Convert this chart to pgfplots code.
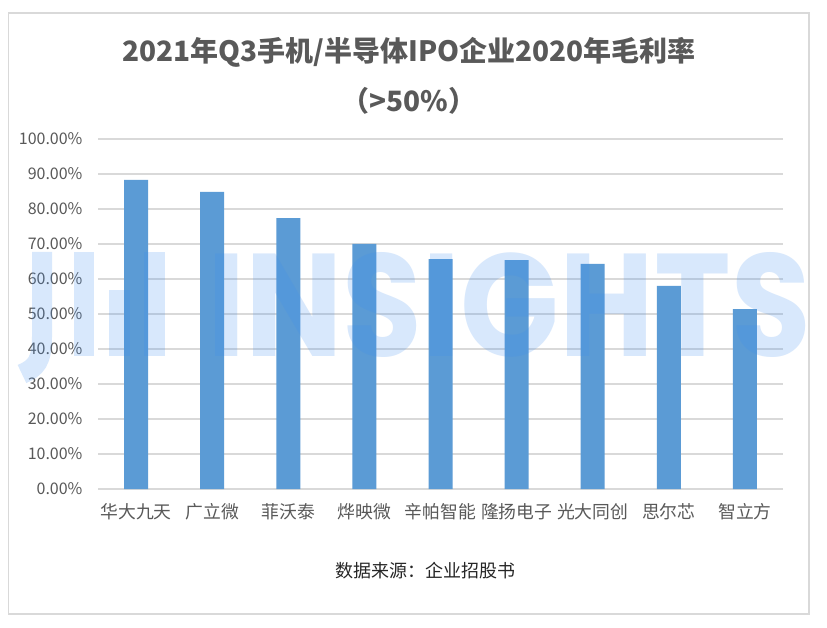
\documentclass[border=0pt]{standalone}
\usepackage{fontspec}
\setmainfont{Noto Sans CJK SC}
\newfontfamily\wm{Poppins}
\usepackage{pgfplots}
\pgfplotsset{compat=1.18}
\definecolor{barc}{HTML}{5B9BD5}
\definecolor{gridc}{HTML}{D9D9D9}
\definecolor{txt}{HTML}{595959}
\definecolor{wmc}{RGB}{60,140,240}
\begin{document}
\begin{tikzpicture}
\path[use as bounding box] (0pt,0pt) rectangle (827pt,627pt);
\fill[white] (0pt,0pt) rectangle (827pt,627pt);
\begin{axis}[
  at={(98pt,138pt)}, anchor=south west, scale only axis,
  width=685pt, height=350pt,
  xmin=-0.5, xmax=8.5, ymin=0, ymax=100,
  axis line style={draw=none},
  major tick length=0pt,
  ytick={0,10,...,100},
  ymajorgrids, grid style={gridc, line width=1.2pt},
  xtick={0,...,8},
  xticklabels={华大九天,广立微,菲沃泰,烨映微,辛帕智能,隆扬电子,光大同创,思尔芯,智立方},
  xticklabel style={font=\fontsize{17.8}{17.8}\selectfont, text=txt, yshift=-11pt},
  yticklabel style={font=\fontsize{16}{16}\selectfont, text=txt, xshift=-12pt},
  /pgf/number format/assume math mode=true,
  yticklabel={\pgfmathprintnumber[fixed,fixed zerofill,precision=2]{\tick}\%},
  clip=false,
]
\addplot[ybar, bar width=24pt, fill=barc, draw=none] coordinates {
 (0,88.3) (1,84.9) (2,77.4) (3,70.0) (4,65.7) (5,65.4) (6,64.3) (7,58.0) (8,51.4)
};
\end{axis}
% watermark
\begin{scope}
\clip (9pt,14pt) rectangle (808pt,613pt);
\begin{scope}[opacity=0.2]
\draw[wmc, line width=20pt] (42pt,375pt) -- (42pt,290pt) .. controls (42pt,266pt) and (36pt,259pt) .. (22pt,253pt);
\fill[wmc] (74pt,271pt) rectangle (94pt,375pt);
\fill[wmc] (109pt,271pt) rectangle (130pt,337pt);
\fill[wmc] (144pt,271pt) rectangle (165pt,375pt);
\node[wmc, anchor=base west, inner sep=0pt] at (207pt,271pt) {\resizebox{603pt}{104pt}{\wm\bfseries INSIGHTS}};
\end{scope}
\end{scope}
\draw[gridc, line width=1.5pt] (8.5pt,13pt) rectangle (809pt,614pt);
\node[text=txt, font=\bfseries\fontsize{28}{28}\selectfont] at (409pt,575pt) {2021年Q3手机/半导体IPO企业2020年毛利率};
\node[text=txt, font=\bfseries\fontsize{28}{28}\selectfont] at (409pt,526pt) {（>50\%）};
\node[text=black!85, font=\fontsize{18}{18}\selectfont] at (425pt,56pt) {数据来源：企业招股书};
\end{tikzpicture}
\end{document}
